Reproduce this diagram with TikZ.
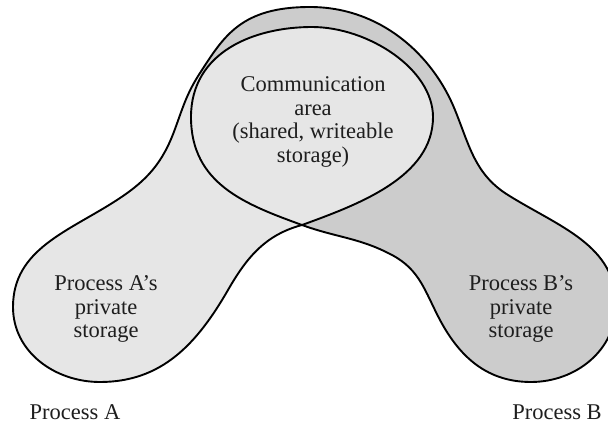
\documentclass[tikz,border=0pt]{standalone}
\usepackage{fontspec}
\setmainfont{Liberation Serif}
\usepackage{tikz}
\definecolor{lightfill}{HTML}{E6E6E6}
\definecolor{darkfill}{HTML}{CCCCCC}
\definecolor{txt}{HTML}{1E1E1E}
\begin{document}
\begin{tikzpicture}[x=1pt,y=1pt,
  outline/.style={line width=1.9pt, line join=round, black},
  lbl/.style={text=txt, font=\fontsize{22.5}{23.5}\selectfont, align=center, inner sep=0pt}]
\useasboundingbox (0,0) rectangle (608,424);
% key points of the outline (y measured upwards)
\coordinate (X)  at (302,199);   % lower crossing
\coordinate (M1) at (228,134);
\coordinate (Ab) at (100,42);
\coordinate (Al) at (13,117);
\coordinate (N2) at (117,224);
\coordinate (N3) at (175,295);
\coordinate (P)  at (200,351);   % upper-left crossing
\coordinate (T)  at (310,417);
\coordinate (R1) at (455,314);
\coordinate (R2) at (508,229);
\coordinate (Br) at (616,119);
\coordinate (Bb) at (531,42);
\coordinate (B1) at (440,104);
\coordinate (B2) at (392,169);
% ellipse (communication area)
\coordinate (EL) at (191,307);
\coordinate (ET) at (312,397);
\coordinate (ER) at (433,307);
\def\outerpath{(X) .. controls +(195:38) and +(60:38) .. (M1)
  .. controls +(240:62) and +(0:62) .. (Ab)
  .. controls +(180:45) and +(270:45) .. (Al)
  .. controls +(90:58) and +(213:58) .. (N2)
  .. controls +(33:36) and +(250:36) .. (N3)
  .. controls +(70:24) and +(237:24) .. (P)
  .. controls +(57:44) and +(180:69) .. (T)
  .. controls +(0:70) and +(112:60) .. (R1)
  .. controls +(292:39) and +(148:39) .. (R2)
  .. controls +(328:60) and +(90:60) .. (Br)
  .. controls +(270:45) and +(0:45) .. (Bb)
  .. controls +(180:43) and +(298:43) .. (B1)
  .. controls +(118:32) and +(332:32) .. (B2)
  .. controls +(152:37) and +(340:37) .. (X)}
\def\ellpath{(X) .. controls +(160:60) and +(270:67) .. (EL)
  .. controls +(90:65) and +(180:58) .. (ET)
  .. controls +(0:56) and +(90:48) .. (ER)
  .. controls +(270:60) and +(20:60) .. (X)}
% B colour over the whole outline
\fill[darkfill] \outerpath -- cycle;
% A's side (left of the line through the two crossings) in light grey
\begin{scope}
  \clip (100,500) -- (P) -- (X) -- (503,-100) -- (-50,-100) -- (-50,500) -- cycle;
  \fill[lightfill] \outerpath -- cycle;
\end{scope}
% communication area
\fill[lightfill] \ellpath -- cycle;
% outlines
\draw[outline] \outerpath;
\draw[outline] \ellpath;
% labels
\node[lbl] (comm) at (313,302) {Communication\\area\\(shared, writeable\\storage)};
\node[lbl] (pa) at (106,115) {Process A's\\private\\storage};
\node[lbl] (pb) at (521,115) {Process B's\\private\\storage};
\node[lbl, anchor=base] (procA) at (75,5) {Process A};
\node[lbl, anchor=base] (procB) at (557,5) {Process B};
\end{tikzpicture}
\end{document}
